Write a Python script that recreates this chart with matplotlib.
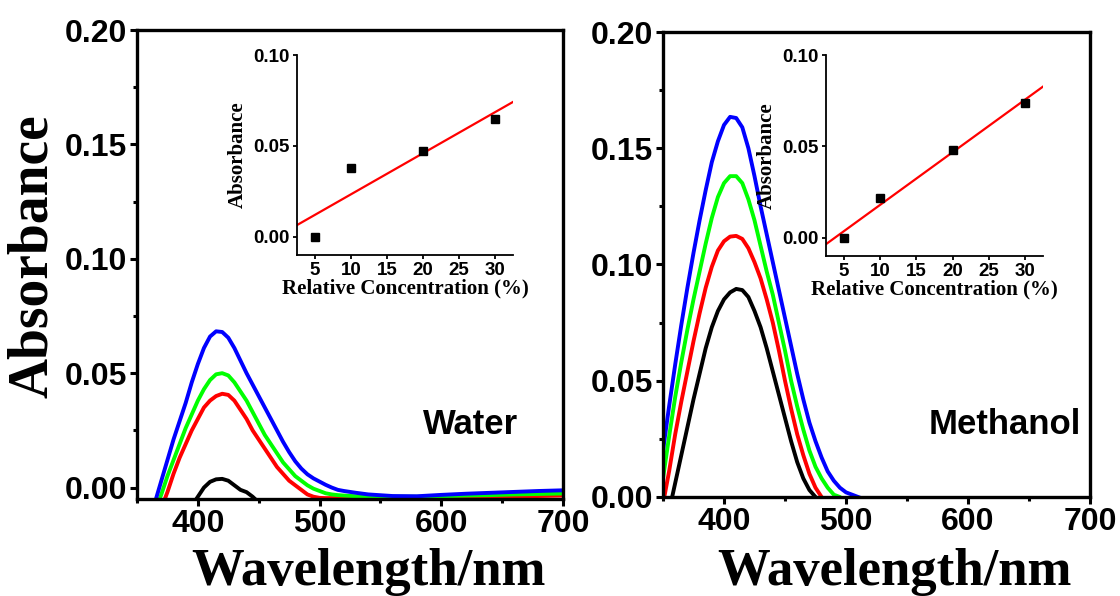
import numpy as np
import matplotlib
matplotlib.use("Agg")
import matplotlib.pyplot as plt
from matplotlib.ticker import MultipleLocator, FormatStrFormatter

# ---------------- data ----------------
# Water: absorption spectra (nm, absorbance)
wl_water = [360, 365, 370, 375, 380, 385, 390, 395, 400, 405, 410, 415, 420,
            425, 430, 435, 440, 445, 450, 455, 460, 465, 470, 475, 480, 485,
            490, 495, 500, 505, 510, 515, 520, 530, 540, 560, 580, 600, 620,
            640, 660, 680, 700]
water_blue = [-0.014, -0.006, 0.003, 0.012, 0.021, 0.029, 0.037, 0.046, 0.054,
              0.061, 0.066, 0.0683, 0.068, 0.0655, 0.061, 0.0555, 0.050, 0.045,
              0.040, 0.035, 0.030, 0.025, 0.020, 0.0155, 0.0115, 0.0083, 0.0058,
              0.004, 0.0026, 0.0012, 0.000, -0.001, -0.0015, -0.0023, -0.003,
              -0.0037, -0.0038, -0.0032, -0.0027, -0.0023, -0.0019, -0.0015,
              -0.0012]
water_green = [-0.017, -0.010, -0.003, 0.005, 0.012, 0.019, 0.026, 0.032, 0.038,
               0.043, 0.047, 0.0495, 0.050, 0.049, 0.046, 0.042, 0.038, 0.033,
               0.028, 0.023, 0.019, 0.015, 0.011, 0.008, 0.005, 0.003, 0.001,
               -0.0005, -0.0015, -0.0025, -0.003, -0.0033, -0.0035, -0.0038,
               -0.004, -0.004, -0.004, -0.0038, -0.0035, -0.0033, -0.003,
               -0.0028, -0.0026]
water_red = [-0.022, -0.016, -0.009, -0.002, 0.006, 0.013, 0.019, 0.025, 0.030,
             0.035, 0.038, 0.040, 0.041, 0.0405, 0.038, 0.034, 0.030, 0.025,
             0.021, 0.017, 0.013, 0.009, 0.006, 0.003, 0.001, -0.001, -0.003,
             -0.004, -0.0045, -0.0046, -0.0046, -0.0046, -0.0046, -0.0046,
             -0.0046, -0.0046, -0.0046, -0.0045, -0.0043, -0.0041, -0.0039,
             -0.0037, -0.0035]
water_black = [-0.030, -0.027, -0.024, -0.021, -0.018, -0.015, -0.012, -0.008,
               -0.004, 0.000, 0.0025, 0.0036, 0.0038, 0.003, 0.001, -0.001,
               -0.002, -0.004, -0.0065, -0.009, -0.012, -0.015, -0.018, -0.02,
               -0.02, -0.02, -0.02, -0.02, -0.02, -0.02, -0.02, -0.02, -0.02,
               -0.02, -0.02, -0.02, -0.02, -0.02, -0.02, -0.02, -0.02, -0.02,
               -0.02]

# Methanol: absorption spectra (nm, absorbance)
wl_meoh = [350, 355, 360, 365, 370, 375, 380, 385, 390, 395, 400, 405, 410,
           415, 420, 425, 430, 435, 440, 445, 450, 455, 460, 465, 470, 475,
           480, 485, 490, 495, 500, 505, 510, 515, 520]
meoh_blue = [0.020, 0.039, 0.057, 0.074, 0.090, 0.105, 0.119, 0.132, 0.144,
             0.153, 0.160, 0.1635, 0.163, 0.159, 0.150, 0.138, 0.125, 0.113,
             0.101, 0.089, 0.077, 0.065, 0.053, 0.042, 0.032, 0.024, 0.017,
             0.011, 0.007, 0.004, 0.002, 0.001, 0.000, -0.001, -0.002]
meoh_green = [0.008, 0.026, 0.043, 0.058, 0.072, 0.085, 0.097, 0.109, 0.120,
              0.129, 0.135, 0.138, 0.138, 0.135, 0.128, 0.119, 0.108, 0.097,
              0.087, 0.075, 0.063, 0.050, 0.039, 0.029, 0.020, 0.013, 0.008,
              0.004, 0.001, 0.000, -0.002, -0.003, -0.004, -0.005, -0.006]
meoh_red = [-0.003, 0.011, 0.027, 0.041, 0.054, 0.067, 0.079, 0.090, 0.099,
            0.106, 0.110, 0.112, 0.1123, 0.111, 0.107, 0.101, 0.094, 0.085,
            0.075, 0.063, 0.050, 0.038, 0.027, 0.018, 0.010, 0.004, 0.000,
            -0.003, -0.005, -0.006, -0.007, -0.008, -0.009, -0.01, -0.01]
meoh_black = [-0.018, -0.006, 0.006, 0.018, 0.030, 0.042, 0.053, 0.064, 0.073,
              0.080, 0.085, 0.088, 0.0895, 0.089, 0.086, 0.080, 0.073, 0.064,
              0.054, 0.044, 0.034, 0.024, 0.015, 0.008, 0.003, 0.000, -0.003,
              -0.005, -0.007, -0.008, -0.009, -0.01, -0.01, -0.01, -0.01]

# Calibration insets: absorbance vs relative concentration
conc = [5, 10, 20, 30]
water_abs = [0.000, 0.038, 0.047, 0.065]
meoh_abs = [0.000, 0.022, 0.048, 0.074]

series_colors = ["black", "#FF0000", "#00FF00", "#0000FF"]

SANS = "Liberation Sans"
SERIF = "Liberation Serif"

W, H = 1120, 596
fig = plt.figure(figsize=(W / 100, H / 100), dpi=100)


def px_axes(left, top, right, bottom):
    return fig.add_axes([left / W, 1 - bottom / H, (right - left) / W,
                         (bottom - top) / H])


def style_main(ax, ylim):
    ax.set_xlim(350, 700)
    ax.set_ylim(*ylim)
    ax.xaxis.set_major_locator(MultipleLocator(100))
    ax.xaxis.set_minor_locator(MultipleLocator(50))
    ax.yaxis.set_major_locator(MultipleLocator(0.05))
    ax.yaxis.set_minor_locator(MultipleLocator(0.025))
    ax.yaxis.set_major_formatter(FormatStrFormatter("%.2f"))
    for sp in ax.spines.values():
        sp.set_linewidth(2.4)
    ax.tick_params(which="major", direction="out", length=5, width=2.2,
                   pad=2, top=False, right=False)
    ax.tick_params(which="minor", direction="out", length=3, width=2.2,
                   top=False, right=False)
    for lab in ax.get_xticklabels() + ax.get_yticklabels():
        lab.set_fontfamily(SANS)
        lab.set_fontweight("bold")
        lab.set_fontsize(23)


def draw_spectra(ax, wl, curves):
    for y, c in zip(curves, series_colors):
        ax.plot(wl, y, color=c, lw=2.8, solid_capstyle="round",
                solid_joinstyle="round")


def draw_inset(ax, x, y):
    ax.set_facecolor("none")
    ax.set_xlim(2.5, 32.5)
    ax.set_ylim(-0.01, 0.10)
    ax.spines["top"].set_visible(False)
    ax.spines["right"].set_visible(False)
    for sp in ("left", "bottom"):
        ax.spines[sp].set_linewidth(1.3)
    ax.xaxis.set_major_locator(MultipleLocator(5))
    ax.yaxis.set_major_locator(MultipleLocator(0.05))
    ax.yaxis.set_major_formatter(FormatStrFormatter("%.2f"))
    ax.tick_params(direction="out", length=3, width=1.3, pad=2)
    for lab in ax.get_xticklabels() + ax.get_yticklabels():
        lab.set_fontfamily(SANS)
        lab.set_fontweight("bold")
        lab.set_fontsize(13.5)
    slope, icpt = np.polyfit(x, y, 1)
    xf = np.array(ax.get_xlim())
    ax.plot(xf, slope * xf + icpt, color="#FF0000", lw=1.6, zorder=2)
    ax.plot(x, y, "s", color="black", ms=5.5, zorder=3)
    ax.set_ylabel("Absorbance", fontfamily=SERIF, fontweight="bold",
                  fontsize=15, labelpad=4)
    ax.set_xlabel("Relative Concentration (%)", fontfamily=SERIF,
                  fontweight="bold", fontsize=15, labelpad=0)


# left panel: water
ax1 = px_axes(137, 30, 563, 499)
draw_spectra(ax1, wl_water, [water_black, water_red, water_green, water_blue])
style_main(ax1, (-0.005, 0.20))
ax1.text(0.782, 0.158, "Water", transform=ax1.transAxes, ha="center",
         va="center", fontfamily=SANS, fontweight="bold", fontsize=25)

# right panel: methanol
ax2 = px_axes(663, 32, 1090, 497)
draw_spectra(ax2, wl_meoh, [meoh_black, meoh_red, meoh_green, meoh_blue])
style_main(ax2, (0.0, 0.20))
ax2.text(0.801, 0.155, "Methanol", transform=ax2.transAxes, ha="center",
         va="center", fontfamily=SANS, fontweight="bold", fontsize=25)

# insets
ins1 = px_axes(297, 55, 513, 255)
draw_inset(ins1, conc, water_abs)
ins2 = px_axes(826, 55, 1043, 256)
draw_inset(ins2, conc, meoh_abs)

# shared axis titles
fig.text(33 / W, 1 - 256 / H, "Absorbance", rotation=90, ha="center",
         va="center", fontfamily=SERIF, fontweight="bold", fontsize=40)
fig.text(368 / W, 1 - 585 / H, "Wavelength/nm", ha="center", va="baseline",
         fontfamily=SERIF, fontweight="bold", fontsize=38)
fig.text(894 / W, 1 - 585 / H, "Wavelength/nm", ha="center", va="baseline",
         fontfamily=SERIF, fontweight="bold", fontsize=38)

fig.savefig("out.png", dpi=100, facecolor="white")
